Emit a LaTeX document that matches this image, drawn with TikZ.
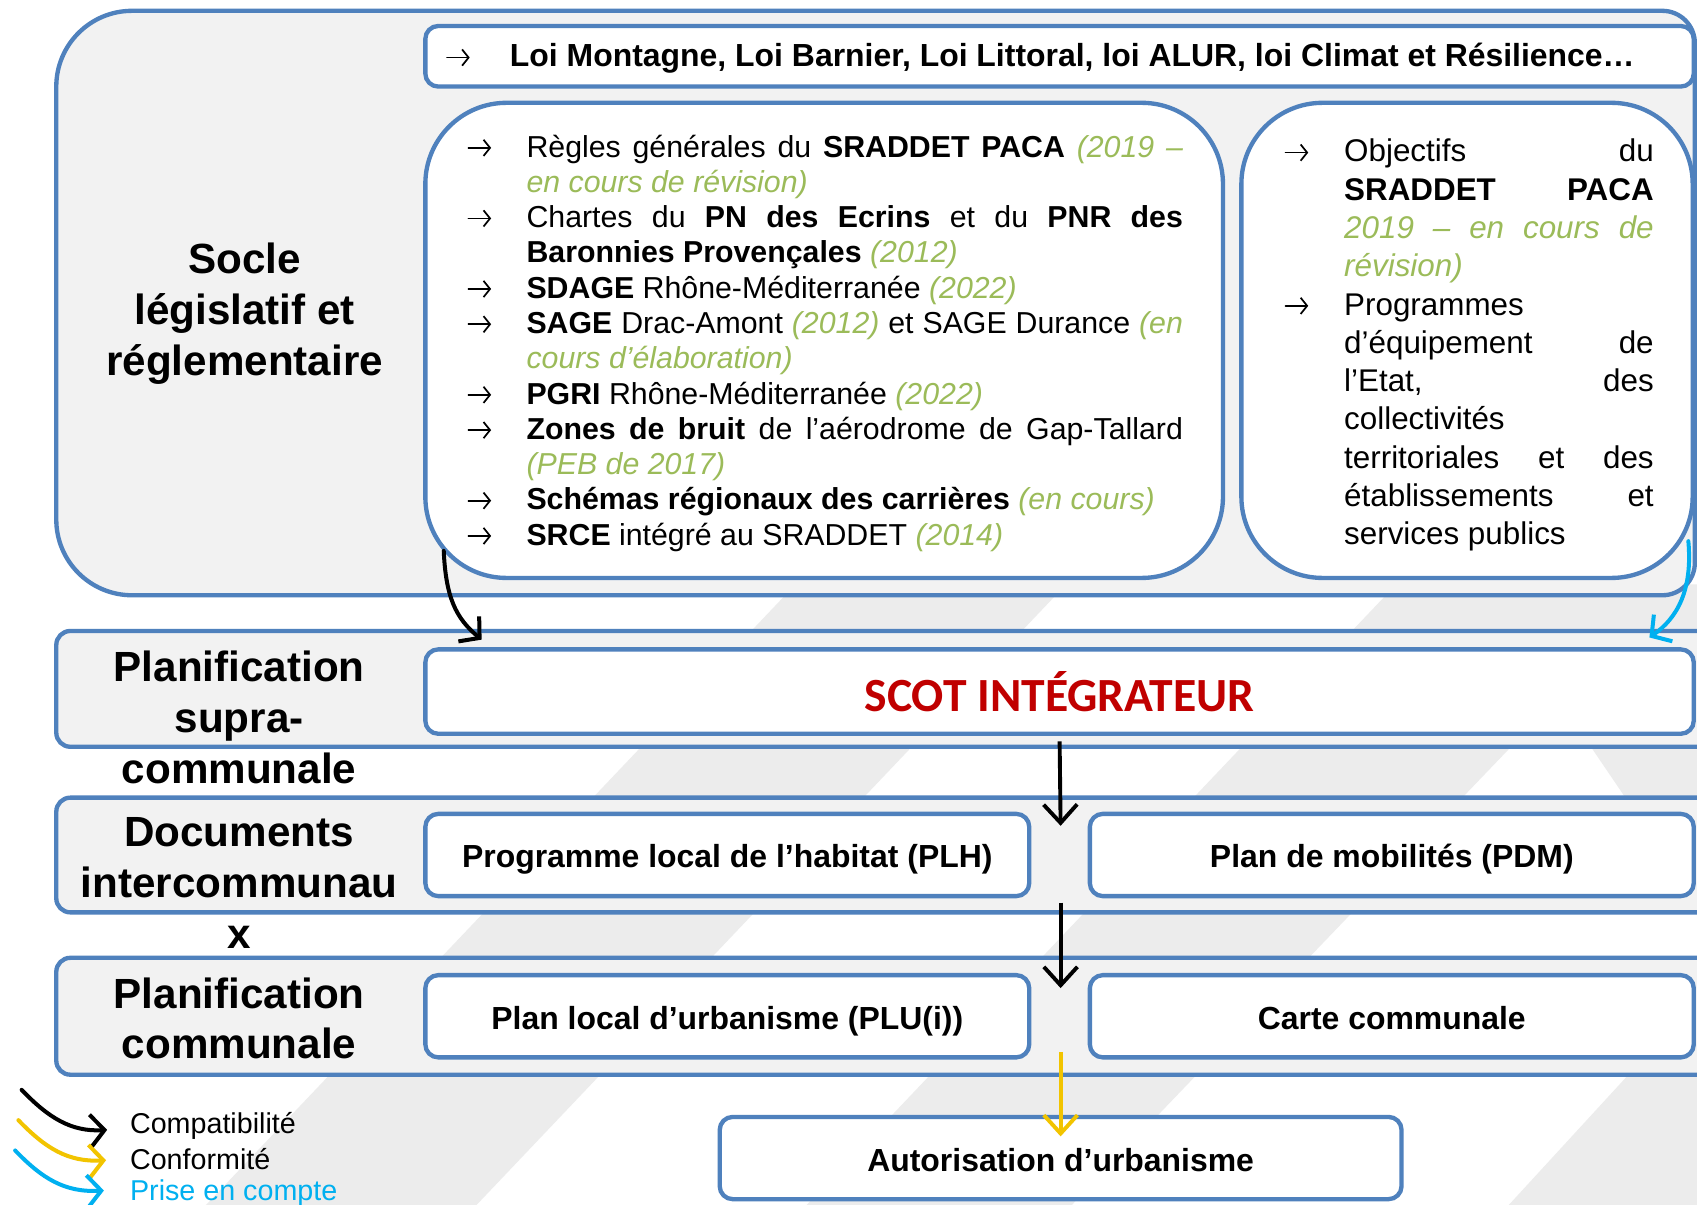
\documentclass[tikz,border=0pt]{standalone}
\usepackage{fontspec}
\setmainfont{Liberation Sans}
\newfontfamily\scotfont{Carlito}
\usetikzlibrary{arrows.meta}
\definecolor{bdr}{RGB}{79,129,189}
\definecolor{panel}{RGB}{242,242,242}
\definecolor{band}{RGB}{236,236,236}
\definecolor{olive}{RGB}{155,187,89}
\definecolor{scotred}{RGB}{192,0,0}
\definecolor{gold}{RGB}{242,196,0}
\definecolor{sky}{RGB}{0,176,240}
\newlength\ind
\newcommand\arr{\tikz[baseline=0pt,x=1pt,y=1pt]{\draw[black,line width=1.6pt,line cap=round,-{Straight Barb[length=6pt,width=15pt]}] (2,8.5) -- (23,8.5);}}
\newcommand\FJ[1]{\hbox to\hsize{\hbox to\ind{\arr\hss}#1}}
\newcommand\FL[1]{\hbox to\hsize{\hbox to\ind{\arr\hss}#1\hfil}}
\newcommand\CJ[1]{\hbox to\hsize{\hskip\ind\relax #1}}
\newcommand\CL[1]{\hbox to\hsize{\hskip\ind\relax #1\hfil}}
\newcommand\gr[1]{\textcolor{olive}{\itshape #1}}
\hbadness=10000
\begin{document}
\begin{tikzpicture}[x=1pt,y=-1pt,
  panelbox/.style={draw=bdr,line width=4pt,fill=panel},
  whitebox/.style={draw=bdr,line width=4pt,fill=white},
  rowpanel/.style={panelbox,rounded corners=13pt,minimum width=1548pt,inner sep=0pt},
  docbox/.style={whitebox,rounded corners=12pt,minimum width=558pt,minimum height=76pt,inner sep=0pt,text height=24pt,text depth=0pt,font=\fontsize{29.5}{34}\selectfont\bfseries},
  rowlabel/.style={align=center,inner sep=0pt,font=\fontsize{39}{47}\selectfont\bfseries},
  flow/.style={line width=3.6pt,-{Straight Barb[length=17pt,width=31pt]}},
  curvy/.style={line width=3.7pt,line cap=round,-{Straight Barb[length=13pt,width=30pt]}},
  legtext/.style={anchor=west,inner sep=0pt,font=\fontsize{26.5}{30}\selectfont}
]
\useasboundingbox (0,0) rectangle (1568,1113);
\clip (0,0) rectangle (1568,1113);
\fill[white] (0,0) rectangle (1568,1113);
% background bands
\fill[band] (735,540) -- (985,540) -- (434,1120) -- (184,1120) -- cycle;
\fill[band] (1290,540) -- (1540,540) -- (984,1120) -- (739,1120) -- cycle;
\fill[band] (1368,540) -- (1603,886) -- (1388,1120) -- (1700,1120) -- (1700,540) -- cycle;

% legislative block
\draw[panelbox] (122,10) -- (1536,10) arc[start angle=-90,end angle=0,radius=30]
  -- (1566,520) arc[start angle=0,end angle=90,radius=30]
  -- (122,550) arc[start angle=90,end angle=180,radius=70]
  -- (52,80) arc[start angle=180,end angle=270,radius=70] -- cycle;
\node[rowlabel] (socle) at (226,290) {Socle\\législatif et\\réglementaire};

\node[whitebox,rounded corners=12pt,minimum width=1172pt,minimum height=56pt,inner sep=0pt] (lois) at (979,52) {};
\node[anchor=west,inner sep=0pt,font=\fontsize{29.5}{34}\selectfont\bfseries] (loistext) at (412,54)
  {\makebox[59pt][l]{\arr}Loi Montagne, Loi Barnier, Loi Littoral, loi ALUR, loi Climat et Résilience…};

\node[whitebox,rounded corners=75pt,minimum width=737pt,minimum height=439pt,inner sep=0pt] (lbox) at (761.5,314.5) {};
\node[inner sep=0pt,font=\fontsize{28}{32.6}\selectfont] (ltext) at (762.5,317) {\vbox{\hsize=661pt \setlength\ind{54.5pt}%
\FJ{Règles générales du \textbf{SRADDET PACA} \gr{(2019 –}}
\CL{\gr{en cours de révision)}}
\FJ{Chartes du \textbf{PN des Ecrins} et du \textbf{PNR des}}
\CL{\textbf{Baronnies Provençales} \gr{(2012)}}
\FL{\textbf{SDAGE} Rhône-Méditerranée \gr{(2022)}}
\FJ{\textbf{SAGE} Drac-Amont \gr{(2012)} et SAGE Durance \gr{(en}}
\CL{\gr{cours d’élaboration)}}
\FL{\textbf{PGRI} Rhône-Méditerranée \gr{(2022)}}
\FJ{\textbf{Zones de bruit} de l’aérodrome de Gap-Tallard}
\CL{\gr{(PEB de 2017)}}
\FL{\textbf{Schémas régionaux des carrières} \gr{(en cours)}}
\FL{\textbf{SRCE} intégré au SRADDET \gr{(2014)}}
}};

\node[whitebox,rounded corners=75pt,minimum width=417pt,minimum height=439pt,inner sep=0pt] (rbox) at (1355.5,314.5) {};
\node[inner sep=0pt,font=\fontsize{29}{35.4}\selectfont] (rtext) at (1357.5,319) {\vbox{\hsize=341pt \setlength\ind{55pt}%
\FJ{Objectifs du}
\CJ{\textbf{SRADDET PACA}}
\CJ{\gr{2019 – en cours de}}
\CL{\gr{révision)}}
\FL{Programmes}
\CJ{d’équipement de}
\CJ{l’Etat, des}
\CL{collectivités}
\CJ{territoriales et des}
\CJ{établissements et}
\CL{services publics}
}};

% rows
\node[rowpanel,minimum height=107pt] (row2) at (826,636.5) {};
\node[rowpanel,minimum height=106pt] (row3) at (826,790) {};
\node[rowpanel,minimum height=108pt] (row4) at (826,939) {};

\node[rowlabel] (lab2) at (221,663) {Planification\\supra-\\communale};
\node[rowlabel] (lab3) at (221,816) {Documents\\intercommunau\\x};
\node[rowlabel] (lab4) at (221,941) {Planification\\communale};

\node[whitebox,rounded corners=12pt,minimum width=1172pt,minimum height=78pt,inner sep=0pt,
  font=\scotfont\bfseries\fontsize{44}{50}\selectfont,text=scotred] (scot) at (979,639) {SCOT INTÉGRATEUR};

\node[docbox] (plh) at (672,790) {Programme local de l’habitat (PLH)};
\node[docbox] (pdm) at (1286,790) {Plan de mobilités (PDM)};
\node[docbox] (plu) at (672,939) {Plan local d’urbanisme (PLU(i))};
\node[docbox] (carte) at (1286,939) {Carte communale};
\node[docbox,minimum width=630pt] (auto) at (980,1070) {Autorisation d’urbanisme};

% connectors
\coordinate (t1) at (980,763);
\coordinate (s2) at (980,834);
\coordinate (t2) at (980,913);
\coordinate (s3) at (980,972);
\coordinate (t3) at (980,1050);
\draw[flow,shorten <=5pt] (scot.south) -- (t1);
\draw[flow] (s2) -- (t2);
\draw[flow,gold] (s3) -- (t3);

\coordinate (k1) at (410,509);
\coordinate (k2) at (445,591);
\draw[curvy,black] (k1) .. controls (412,552) and (421,571) .. (k2);
\coordinate (b1) at (1560,500);
\coordinate (b2) at (1524,589);
\draw[curvy,sky] (b1) .. controls (1564,545) and (1550,571) .. (b2);

% legend
\coordinate (l1a) at (20,1007); \coordinate (l1b) at (99,1044);
\coordinate (l2a) at (17,1035); \coordinate (l2b) at (98,1072);
\coordinate (l3a) at (14,1063); \coordinate (l3b) at (96,1100);
\draw[curvy,black] (l1a) .. controls (45,1033) and (66,1046) .. (l1b);
\draw[curvy,gold] (l2a) .. controls (42,1061) and (63,1074) .. (l2b);
\draw[curvy,sky] (l3a) .. controls (39,1089) and (60,1102) .. (l3b);
\node[legtext] (leg1) at (120,1040) {Compatibilité};
\node[legtext] (leg2) at (120,1071) {Conformité};
\node[legtext,text=sky] (leg3) at (120,1102) {Prise en compte};
\end{tikzpicture}
\end{document}
